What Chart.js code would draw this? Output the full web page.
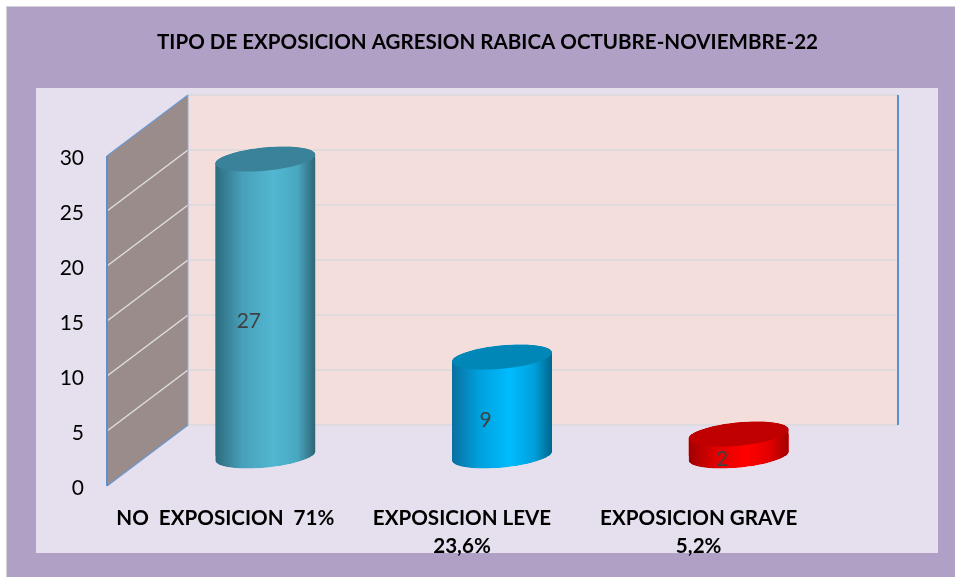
<!DOCTYPE html>
<html>
<head>
<meta charset="utf-8">
<style>html,body{margin:0;padding:0;background:#fff}canvas{display:block}</style>
<script src="https://cdn.jsdelivr.net/npm/chart.js@4"></script>
</head>
<body>
<canvas id="c" width="955" height="577"></canvas>
<script>
const titleText = 'TIPO DE EXPOSICION AGRESION RABICA OCTUBRE-NOVIEMBRE-22';
const categories = ['NO  EXPOSICION  71%', ['EXPOSICION LEVE', '23,6%'], ['EXPOSICION GRAVE', '5,2%']];
const values = [27, 9, 2];
const barColors = ['#4AA8C2', '#00A8E6', '#EE0000'];
const capColors = ['#3A8299', '#0087B8', '#C00000'];
const gradients = [
  ['#2C6B7E', '#48A0BA', '#52B7D1', '#49A8C2', '#2E6575'],
  ['#0A6F9F', '#00A0DC', '#00BCFF', '#00A0DC', '#00668C'],
  ['#A00000', '#E00000', '#FF0000', '#E00000', '#A00000']
];
const DX = 81, DY = 61, BX = 40, BY = 30, RX = 50, RY = 11.7, SH = 4.5;

function arcPts(ctx, cx, cy, from, to) {
  const n = 48;
  for (let i = 0; i <= n; i++) {
    const t = from + (to - from) * i / n;
    ctx.lineTo(cx + RX * Math.cos(t), cy - SH * Math.cos(t) + RY * Math.sin(t));
  }
}
function bodyPath(ctx, cx, top, base) {
  ctx.moveTo(cx - RX, top + SH);
  arcPts(ctx, cx, base, Math.PI, 0);
  arcPts(ctx, cx, top, 0, -Math.PI);
  ctx.closePath();
}
const scene = {
  id: 'scene',
  afterLayout(chart) {
    const tb = chart.titleBlock;
    tb.left = 157; tb.right = 818;
  },
  beforeDraw(chart) {
    const c = chart.ctx;
    c.save();
    c.fillStyle = '#FFFFFF'; c.fillRect(0, 0, 955, 577);
    c.fillStyle = '#D4D0D8'; c.fillRect(6, 6, 949, 571);
    c.fillStyle = '#B0A0C6'; c.fillRect(7, 7, 948, 570);
    c.fillStyle = '#E6E0EE'; c.fillRect(36, 88, 902, 465);
    c.restore();
  },
  beforeDatasetsDraw(chart) {
    const c = chart.ctx, y = chart.scales.y, a = chart.chartArea;
    const L = a.left, R = a.right, y0 = y.getPixelForValue(0), yT = y.getPixelForValue(30);
    c.save();
    // back wall
    c.fillStyle = '#F3DEDC';
    c.fillRect(L + DX, yT - DY, R - L, y0 - yT);
    // left wall
    c.fillStyle = '#9A8C8A';
    c.beginPath();
    c.moveTo(L, yT); c.lineTo(L + DX, yT - DY); c.lineTo(L + DX, y0 - DY); c.lineTo(L, y0);
    c.closePath(); c.fill();
    // grid lines
    y.ticks.forEach(t => {
      const p = y.getPixelForValue(t.value);
      c.strokeStyle = '#D8DADC'; c.lineWidth = 1.5;
      c.beginPath();
      c.moveTo(L + DX, p - DY); c.lineTo(R + DX, p - DY); c.stroke();
      if (t.value > 0 && t.value < 30) {
        c.strokeStyle = '#DEDEDA';
        c.beginPath(); c.moveTo(L, p); c.lineTo(L + DX, p - DY); c.stroke();
      }
    });
    // edges
    c.strokeStyle = '#6A98D0'; c.lineWidth = 1.2;
    c.beginPath(); c.moveTo(L, yT); c.lineTo(L + DX, yT - DY); c.stroke();
    c.beginPath(); c.moveTo(L, y0); c.lineTo(L + DX, y0 - DY); c.stroke();
    c.strokeStyle = '#8FAED6'; c.lineWidth = 1;
    c.beginPath(); c.moveTo(L + DX, yT - DY); c.lineTo(L + DX, y0 - DY); c.stroke();
    c.strokeStyle = '#5B8FD0'; c.lineWidth = 2;
    c.beginPath(); c.moveTo(L, yT); c.lineTo(L, y0); c.stroke();
    c.beginPath(); c.moveTo(R + DX, yT - DY); c.lineTo(R + DX, y0 - DY); c.stroke();
    c.restore();
  },
  beforeDatasetDraw(chart, args) {
    const c = chart.ctx, meta = args.meta;
    c.save();
    c.translate(BX, -BY);
    c.beginPath();
    meta.data.forEach(el => bodyPath(c, el.x, el.y, el.base));
    c.clip();
  },
  afterDatasetDraw(chart, args) {
    const c = chart.ctx, meta = args.meta;
    meta.data.forEach((el, i) => {
      const g = c.createLinearGradient(el.x - RX, 0, el.x + RX, 0);
      const s = gradients[i];
      [0, 0.27, 0.58, 0.82, 1].forEach((p, k) => g.addColorStop(p, s[k]));
      c.fillStyle = g;
      c.beginPath(); bodyPath(c, el.x, el.y, el.base); c.fill();
      c.fillStyle = capColors[i];
      c.beginPath();
      arcPts(c, el.x, el.y, 0, Math.PI * 2);
      c.closePath(); c.fill();
    });
    c.restore();
  },
  afterDatasetsDraw(chart) {
    const c = chart.ctx, meta = chart.getDatasetMeta(0);
    c.save();
    c.fillStyle = '#404040';
    c.font = '21px Lato';
    c.textAlign = 'center'; c.textBaseline = 'middle';
    meta.data.forEach((el, i) => {
      c.fillText(String(values[i]), el.x + 23.5, (el.y + el.base) / 2 - 16);
    });
    c.restore();
  }
};
new Chart(document.getElementById('c'), {
  type: 'bar',
  data: {
    labels: categories,
    datasets: [{ data: values, backgroundColor: barColors, barThickness: 100, borderWidth: 0 }]
  },
  plugins: [scene],
  options: {
    responsive: false,
    animation: false,
    layout: { padding: { left: 0, right: 138, top: 0, bottom: 0 } },
    plugins: {
      legend: { display: false },
      tooltip: { enabled: false },
      title: {
        display: true,
        text: titleText,
        color: '#000000',
        font: { family: 'Lato', size: 20.6, weight: 'bold', lineHeight: 1 },
        padding: { top: 32, bottom: 103.4 }
      }
    },
    scales: {
      x: {
        grid: { display: false },
        border: { display: false },
        afterFit(s) { s.height = 91; },
        ticks: {
          color: '#000000',
          padding: 10,
          maxRotation: 0, minRotation: 0, autoSkip: false,
          font: { family: 'Lato', size: 20.6, weight: 'bold', lineHeight: 1.36 }
        }
      },
      y: {
        min: 0, max: 30,
        grid: { display: false, drawTicks: false },
        border: { display: false },
        afterFit(s) { s.width = 107; },
        ticks: {
          stepSize: 5,
          color: '#000000',
          padding: 23,
          labelOffset: 2.5,
          font: { family: 'Lato', size: 21 }
        }
      }
    }
  }
});
</script>
</body>
</html>
